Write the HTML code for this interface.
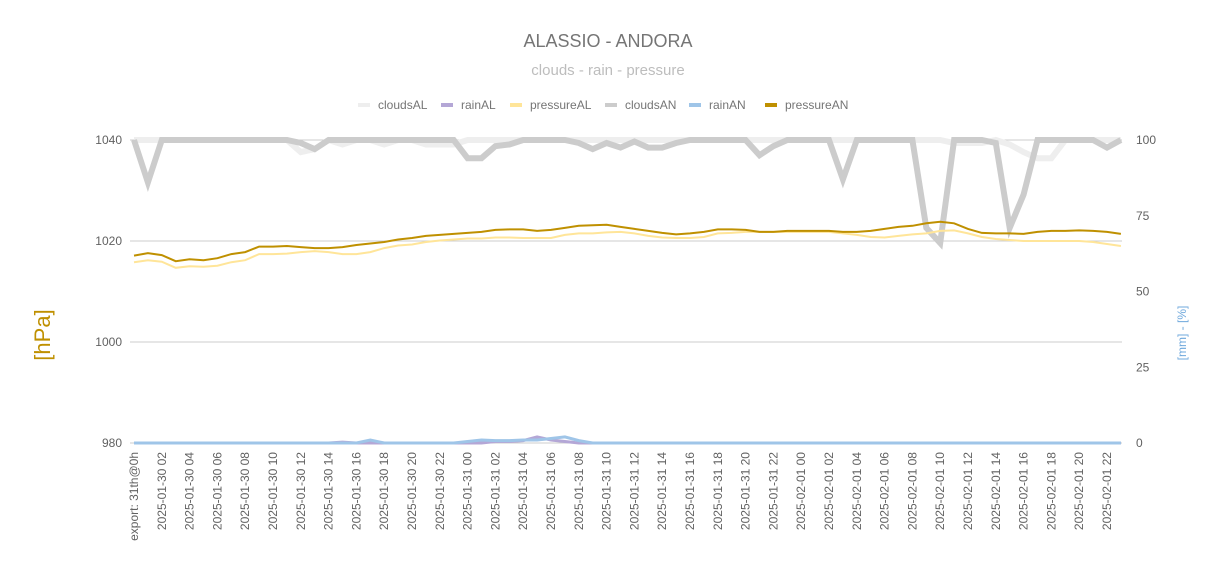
<!DOCTYPE html>
<html><head><meta charset="utf-8"><style>
body{margin:0;background:#fff;}
svg{display:block;font-family:"Liberation Sans",Arial,sans-serif;}
</style></head><body>
<svg id="chart" width="1217" height="568">
<text x="608" y="47" text-anchor="middle" font-size="18" fill="#757575">ALASSIO - ANDORA</text>
<text x="608" y="75" text-anchor="middle" font-size="15" fill="#bdbdbd">clouds - rain - pressure</text>
<g id="legend"></g>
<g id="grid"></g>
<g id="series"></g>
<g id="xaxis"></g>
<text transform="translate(50,335) rotate(-90)" text-anchor="middle" font-size="22" fill="#bf9000">[hPa]</text>
<text transform="translate(1186,333) rotate(-90)" text-anchor="middle" font-size="12" fill="#6fa8dc">[mm] - [%]</text>
</svg>
<script>
const pressureAN=[1017.1,1017.6,1017.2,1016.0,1016.4,1016.2,1016.6,1017.4,1017.8,1018.9,1018.9,1019.0,1018.8,1018.6,1018.6,1018.8,1019.2,1019.5,1019.8,1020.3,1020.6,1021.0,1021.2,1021.4,1021.6,1021.8,1022.2,1022.3,1022.3,1022.0,1022.2,1022.6,1023.0,1023.1,1023.2,1022.8,1022.4,1022.0,1021.6,1021.3,1021.5,1021.8,1022.3,1022.3,1022.2,1021.8,1021.8,1022.0,1022.0,1022.0,1022.0,1021.8,1021.8,1022.0,1022.4,1022.8,1023.0,1023.5,1023.8,1023.5,1022.4,1021.6,1021.5,1021.5,1021.4,1021.8,1022.0,1022.0,1022.1,1022.0,1021.8,1021.4];
const pressureAL=[1015.8,1016.2,1015.9,1014.7,1015.0,1014.9,1015.1,1015.8,1016.2,1017.4,1017.4,1017.5,1017.8,1018.0,1017.8,1017.4,1017.4,1017.8,1018.6,1019.1,1019.3,1019.8,1020.1,1020.3,1020.5,1020.5,1020.7,1020.7,1020.6,1020.6,1020.6,1021.2,1021.5,1021.5,1021.7,1021.8,1021.5,1021.0,1020.7,1020.6,1020.6,1020.8,1021.5,1021.6,1021.8,1021.8,1021.8,1021.8,1021.8,1021.8,1021.8,1021.5,1021.2,1020.8,1020.7,1021.0,1021.3,1021.5,1022.0,1022.1,1021.5,1020.8,1020.4,1020.2,1020.0,1020.0,1020.0,1020.0,1020.0,1019.8,1019.4,1019.0];
const cloudsAN=[100,86,100,100,100,100,100,100,100,100,100,100,99,97,100,100,100,100,100,100,100,100,100,100,94,94,98,98.5,100,100,100,100,99,97,99,97.5,99.5,97.5,97.5,99,100,100,100,100,100,95,98,100,100,100,100,87,100,100,100,100,100,71,66,100,100,100,99,71,82,100,100,100,100,100,97.5,100];
const cloudsAL=[100,100,100,100,100,100,100,100,100,100,100,100,96,97,100,98.5,100,100,98.5,100,100,98.5,98.5,98.5,100,100,100,100,100,100,100,100,100,100,100,100,100,100,100,100,100,100,100,100,100,100,100,100,100,100,100,100,100,100,100,100,100,100,100,99,99,99,100,98.5,96,94,94,100,100,100,100,100];
const rainAN=[0,0,0,0,0,0,0,0,0,0,0,0,0,0,0,0,0,1,0,0,0,0,0,0,0.5,1,0.8,0.8,1,1,1.5,2,0.8,0,0,0,0,0,0,0,0,0,0,0,0,0,0,0,0,0,0,0,0,0,0,0,0,0,0,0,0,0,0,0,0,0,0,0,0,0,0,0];
const rainAL=[0,0,0,0,0,0,0,0,0,0,0,0,0,0,0,0.3,0,0,0,0,0,0,0,0,0,0,0.5,0.5,0.8,2,1,0.5,0,0,0,0,0,0,0,0,0,0,0,0,0,0,0,0,0,0,0,0,0,0,0,0,0,0,0,0,0,0,0,0,0,0,0,0,0,0,0,0];
const leftTicks=[980,1000,1020,1040];
const rightTicks=[0,25,50,75,100];
const xLabels=["export: 31th@0h"];
["2025-01-30","2025-01-31","2025-02-01"].forEach((d,k)=>{for(let h=(k===0?2:0);h<24;h+=2)xLabels.push(d+" "+String(h).padStart(2,"0"));});

const NS="http://www.w3.org/2000/svg";
function mk(tag,attrs,parent){const e=document.createElementNS(NS,tag);for(const k in attrs)e.setAttribute(k,attrs[k]);parent.appendChild(e);return e;}
const X0=130,X1=1122,YT=140,YB=443;
const xs=i=>134+i*13.9;
const yL=v=>YB-(v-980)/60*(YB-YT);
const yR=v=>YB-v/100*(YB-YT);

const grid=document.getElementById('grid');
leftTicks.forEach(t=>{
  const l=mk('line',{x1:X0,x2:X1,y1:yL(t),y2:yL(t),stroke:'#ccc','stroke-width':1},grid);
  
  
  const tx=mk('text',{x:122,y:yL(t)+4,'text-anchor':'end','font-size':12,fill:'#616161'},grid);
  tx.textContent=t;
  
  
});
rightTicks.forEach(t=>{
  const tx=mk('text',{x:1136,y:yR(t)+4,'font-size':12,fill:'#616161'},grid);
  tx.textContent=t;
  
  
});

const ser=document.getElementById('series');
function line(arr,fy,color,w,name){
  const d=arr.map((v,i)=>(i?'L':'M')+xs(i).toFixed(1)+','+fy(v).toFixed(1)).join('');
  const p=mk('path',{d:d,fill:'none',stroke:color,'stroke-width':w,'stroke-linejoin':'miter'},ser);
  
  
}
line(cloudsAL,yR,'#eeeeee',6,'series-cloudsAL');
line(cloudsAN,yR,'#cccccc',6,'series-cloudsAN');
line(rainAL,yR,'#b4a7d6',3,'series-rainAL');
line(rainAN,yR,'#9fc5e8',3,'series-rainAN');
line(pressureAL,yL,'#ffe599',2,'series-pressureAL');
line(pressureAN,yL,'#bf9000',2,'series-pressureAN');

const xa=document.getElementById('xaxis');
xLabels.forEach((s,k)=>{
  const x=xs(2*k)+4;
  const t=mk('text',{transform:`translate(${x.toFixed(1)},452) rotate(-90)`,'text-anchor':'end','font-size':12,fill:'#616161'},xa);
  t.textContent=s;
  
  
});

const leg=document.getElementById('legend');
const items=[["cloudsAL","#eeeeee",358],["rainAL","#b4a7d6",441],["pressureAL","#ffe599",510],["cloudsAN","#cccccc",605],["rainAN","#9fc5e8",689],["pressureAN","#bf9000",765]];
items.forEach(([n,c,x])=>{
  const g=mk('g',{},leg);
  
  
  mk('rect',{x:x,y:103,width:12,height:4,fill:c},g);
  const t=mk('text',{x:x+20,y:109,'font-size':12,fill:'#757575'},g);
  t.textContent=n;
});
</script>
</body></html>
